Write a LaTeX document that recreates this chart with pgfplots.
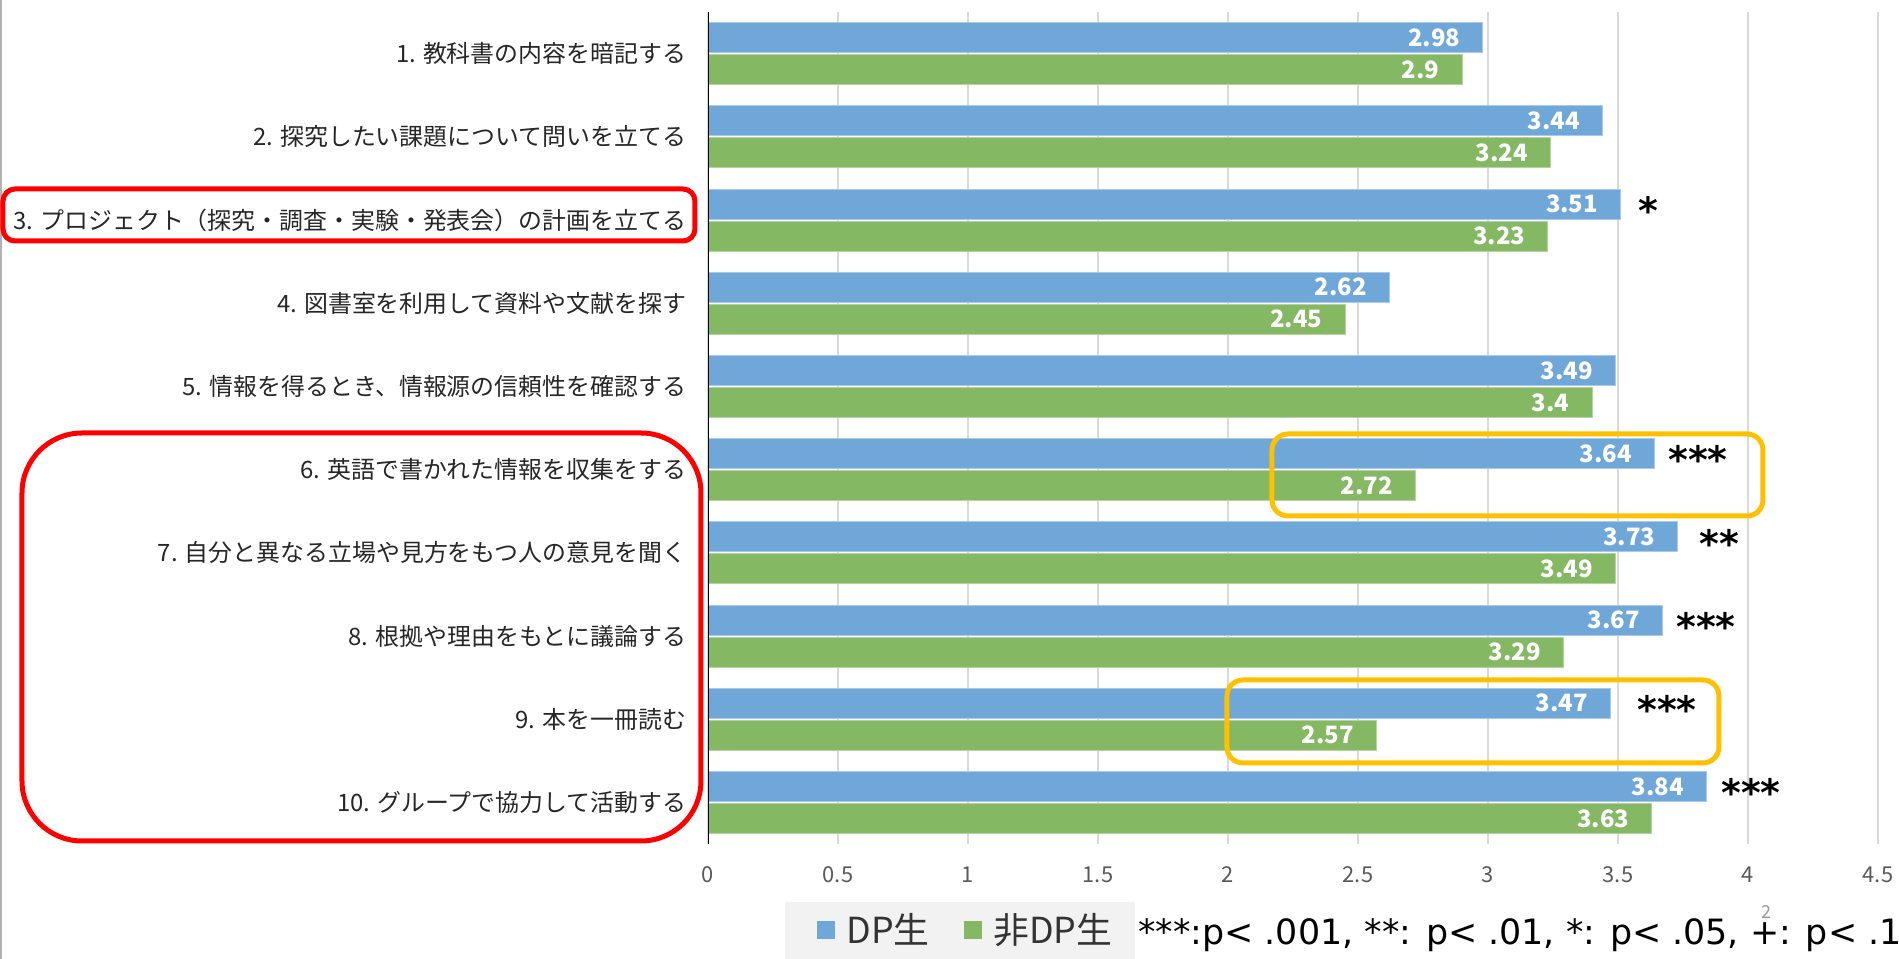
\documentclass[border=0pt]{standalone}
\usepackage{fontspec}
\setmainfont{Noto Sans CJK JP}
\newfontfamily\djv{DejaVu Sans}
\usepackage{pgfplots}
\usepackage{pgfplotstable}
\pgfplotsset{compat=1.18}
\definecolor{dpblue}{HTML}{70A7D9}
\definecolor{dpgreen}{HTML}{84B862}
\definecolor{gridgray}{HTML}{D9D9D9}
\definecolor{tickgray}{HTML}{595959}
\definecolor{boxyellow}{HTML}{FFC000}
\definecolor{boxred}{HTML}{FF0000}

\pgfplotstableread{
cat dp non
1 2.98 2.9
2 3.44 3.24
3 3.51 3.23
4 2.62 2.45
5 3.49 3.4
6 3.64 2.72
7 3.73 3.49
8 3.67 3.29
9 3.47 2.57
10 3.84 3.63
}\datatable

\begin{document}
\begin{tikzpicture}
\path[use as bounding box] (0,0) rectangle (949.5bp,-479.5bp);
\begin{scope}[x=0.5bp,y=-0.5bp]
\fill[black!5] (785,902) rectangle (1135,959);
\draw[black!30, line width=1bp] (1,0) -- (1,959);
\end{scope}
\begin{axis}[
  at={(354bp,-422bp)}, anchor=south west,
  scale only axis, width=585bp, height=416bp,
  xbar=1bp, bar width=15bp,
  xmin=0, xmax=4.5, ymin=0.5, ymax=10.5, y dir=reverse,
  xtick={0,0.5,1,1.5,2,2.5,3,3.5,4,4.5},
  ytick={1,2,3,4,5,6,7,8,9,10},
  yticklabels={
    {1. 教科書の内容を暗記する},
    {2. 探究したい課題について問いを立てる},
    {3. プロジェクト（探究・調査・実験・発表会）の計画を立てる},
    {4. 図書室を利用して資料や文献を探す},
    {5. 情報を得るとき、情報源の信頼性を確認する},
    {6. 英語で書かれた情報を収集をする},
    {7. 自分と異なる立場や見方をもつ人の意見を聞く},
    {8. 根拠や理由をもとに議論する},
    {9. 本を一冊読む},
    {10. グループで協力して活動する}},
  xmajorgrids, major grid style={gridgray, line width=0.7bp},
  axis line style={draw=none},
  tick style={draw=none},
  /pgf/number format/assume math mode=true,
  xticklabel style={font=\fontsize{11}{13}\selectfont, text=tickgray, inner sep=0pt, yshift=-11bp, anchor=north},
  yticklabel style={font=\fontsize{12}{14}\selectfont, text=black!85, inner sep=0pt, xshift=-6.5bp, anchor=east},
  nodes near coords,
  every node near coord/.append style={font=\bfseries\fontsize{12}{14}\selectfont, text=white, anchor=east, inner sep=0pt, xshift=-5.5bp},
  legend style={at={(axis description cs:0.0932,-0.1037)}, anchor=west, fill=none, draw=none, inner sep=0pt, outer sep=0pt,
    legend columns=2, font=\fontsize{18}{20}\selectfont, text=black!80,
    nodes={inner sep=0pt},
    /tikz/every even column/.append style={column sep=17bp}},
  sqlegend/.style={legend image code/.code={\path[##1,draw=none] (0bp,-4.5bp) rectangle (9bp,4.5bp); \path (14.5bp,0bp);}},
]
\addplot[fill=dpblue, draw=dpblue!60!white, line width=0.5bp, sqlegend, bar shift=8bp,
  every node near coord/.append style={anchor=east, xshift=-5.5bp}] table[x=dp, y=cat] {\datatable};
\addplot[fill=dpgreen, draw=dpgreen!60!white, line width=0.5bp, sqlegend, bar shift=-8bp,
  every node near coord/.append style={anchor=east, xshift=-5.5bp}] table[x=non, y=cat] {\datatable};
\legend{DP生, 非DP生}
\draw[black, line width=1bp] (rel axis cs:0,0) -- (rel axis cs:0,1);
\tikzset{stars/.style={anchor=west, inner sep=0pt, font=\djv\bfseries\fontsize{19}{20}\selectfont, yshift=-3.1bp}}
\node[stars] at (axis cs:3.577,2.807) {*};
\node[stars] at (axis cs:3.692,5.807) {***};
\node[stars] at (axis cs:3.812,6.807) {**};
\node[stars] at (axis cs:3.723,7.807) {***};
\node[stars] at (axis cs:3.573,8.807) {***};
\node[stars] at (axis cs:3.896,9.807) {***};
\end{axis}
\begin{scope}[x=0.5bp,y=-0.5bp]
\draw[boxred, line width=2.5bp, rounded corners=6bp] (3,189) rectangle (695,241);
\draw[boxred, line width=2.5bp, rounded corners=30bp] (22,433) rectangle (701,841);
\draw[boxyellow, line width=2.5bp, rounded corners=8bp] (1272,434) rectangle (1763,516);
\draw[boxyellow, line width=2.5bp, rounded corners=8bp] (1227,680) rectangle (1719,763);
\node[text=black!40, font=\fontsize{9}{10}\selectfont, inner sep=0pt] at (1766,912) {2};
\node[anchor=base west, inner sep=0pt, font=\djv\fontsize{17.5}{20}\selectfont] at (1138,945) {***:p< .001, **: p< .01, *: p< .05, +: p< .1};
\end{scope}
\end{tikzpicture}
\end{document}
